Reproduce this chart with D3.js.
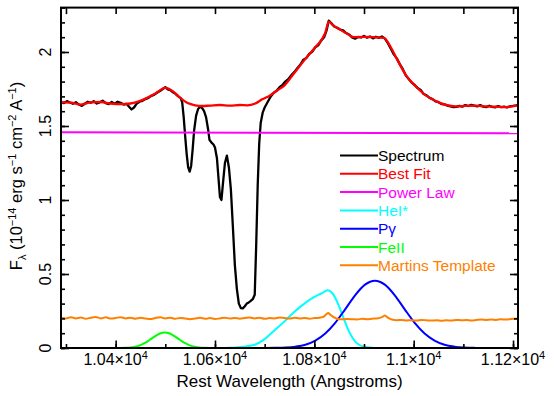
<!DOCTYPE html>
<html>
<head>
<meta charset="utf-8">
<script src="https://cdn.jsdelivr.net/npm/d3@7"></script>
<style>
  body { margin: 0; background: #fff; }
  text { font-family: "Liberation Sans", Arial, sans-serif; }
</style>
</head>
<body>
<div id="chart"></div>
<script>
// observed spectrum (Angstrom, 1e-14 erg/s/cm2/A)
const specWave = [
  10290, 10296, 10302, 10308, 10314, 10320, 10326, 10332, 10338, 10344,
  10350, 10356, 10362, 10368, 10374, 10380, 10386, 10392, 10398, 10404,
  10410, 10416, 10422, 10427, 10432, 10437, 10442, 10448, 10454, 10460,
  10466, 10472, 10478, 10484, 10490, 10496, 10500, 10505, 10510, 10515,
  10520, 10526, 10531, 10534, 10537, 10540, 10543, 10546, 10549, 10552,
  10555, 10558, 10562, 10566, 10570, 10574, 10578, 10582, 10586, 10589,
  10593, 10597, 10600, 10604, 10607, 10610, 10613, 10616, 10620, 10624,
  10628, 10632, 10636, 10640, 10644, 10648, 10652, 10656, 10660, 10664,
  10668, 10672, 10676, 10680, 10683, 10686, 10689, 10692, 10696, 10700,
  10706, 10712, 10718, 10724, 10730, 10736, 10742, 10748, 10754, 10760,
  10766, 10772, 10778, 10784, 10790, 10796, 10802, 10808, 10814, 10820,
  10825, 10829, 10834, 10840, 10846, 10852, 10858, 10864, 10870, 10876,
  10882, 10888, 10894, 10900, 10906, 10912, 10918, 10924, 10930, 10936,
  10942, 10948, 10954, 10960, 10966, 10972, 10978, 10984, 10990, 10996,
  11002, 11008, 11014, 11020, 11026, 11032, 11038, 11044, 11050, 11056,
  11062, 11068, 11074, 11080, 11086, 11092, 11098, 11104, 11110, 11116,
  11122, 11128, 11134, 11140, 11146, 11152, 11158, 11164, 11170, 11176,
  11182, 11188, 11194, 11200, 11206, 11210
];
const specFlux = [
  1.662, 1.655, 1.668, 1.659, 1.650, 1.661, 1.645, 1.636, 1.650, 1.664,
  1.657, 1.668, 1.652, 1.660, 1.671, 1.655, 1.648, 1.662, 1.650, 1.664,
  1.657, 1.645, 1.650, 1.630, 1.612, 1.625, 1.650, 1.664, 1.670, 1.682,
  1.690, 1.704, 1.712, 1.726, 1.738, 1.753, 1.763, 1.748, 1.743, 1.728,
  1.719, 1.700, 1.688, 1.660, 1.560, 1.430, 1.310, 1.220, 1.192, 1.230,
  1.340, 1.470, 1.570, 1.615, 1.630, 1.622, 1.600, 1.560, 1.480, 1.405,
  1.388, 1.375, 1.355, 1.280, 1.150, 1.020, 1.000, 1.110, 1.250, 1.300,
  1.220, 1.070, 0.820, 0.560, 0.400, 0.300, 0.270, 0.268, 0.282, 0.300,
  0.308, 0.318, 0.330, 0.360, 0.700, 1.100, 1.380, 1.520, 1.590, 1.625,
  1.662, 1.698, 1.724, 1.738, 1.762, 1.778, 1.802, 1.818, 1.845, 1.866,
  1.892, 1.915, 1.948, 1.960, 1.988, 2.003, 2.032, 2.046, 2.078, 2.102,
  2.150, 2.212, 2.196, 2.172, 2.164, 2.152, 2.146, 2.128, 2.118, 2.098,
  2.090, 2.102, 2.098, 2.108, 2.097, 2.105, 2.092, 2.103, 2.096, 2.105,
  2.090, 2.060, 2.022, 1.984, 1.957, 1.918, 1.886, 1.842, 1.818, 1.793,
  1.777, 1.756, 1.744, 1.716, 1.707, 1.690, 1.682, 1.666, 1.661, 1.648,
  1.646, 1.638, 1.633, 1.628, 1.629, 1.636, 1.631, 1.641, 1.635, 1.643,
  1.637, 1.633, 1.641, 1.631, 1.627, 1.637, 1.629, 1.626, 1.634, 1.627,
  1.631, 1.625, 1.633, 1.636, 1.640, 1.643
];

// best fit
const fitWave = [10290, 10310, 10330, 10350, 10370, 10390, 10410, 10430, 10445, 10460,
  10480, 10500, 10515, 10530, 10545, 10560, 10575, 10590, 10610, 10630,
  10650, 10665, 10680, 10695, 10710, 10725, 10740, 10760, 10780, 10800,
  10815, 10822, 10829, 10836, 10850, 10865, 10880, 10900, 10920, 10940,
  10950, 10965, 10985, 11005, 11025, 11045, 11065, 11085, 11105, 11125,
  11145, 11165, 11185, 11210];
const fitFlux = [1.660, 1.658, 1.645, 1.660, 1.662, 1.652, 1.648, 1.652, 1.665, 1.685,
  1.720, 1.757, 1.735, 1.690, 1.655, 1.640, 1.635, 1.638, 1.642, 1.638,
  1.642, 1.640, 1.650, 1.680, 1.705, 1.740, 1.775, 1.860, 1.945, 2.025,
  2.085, 2.130, 2.205, 2.185, 2.155, 2.125, 2.100, 2.102, 2.100, 2.095,
  2.055, 1.960, 1.840, 1.765, 1.705, 1.668, 1.642, 1.632, 1.636, 1.638,
  1.632, 1.630, 1.628, 1.640];

// power law continuum
const powWave = [10290, 11210];
const powFlux = [1.457, 1.451];

// HeI* component
const heWave = [10290, 10600, 10640, 10660, 10680, 10700, 10720, 10740, 10760, 10780,
  10800, 10815, 10827, 10835, 10842, 10850, 10858, 10866, 10874, 10882,
  10890, 10900, 10915, 10930, 11210];
const heFlux = [0, 0, 0.004, 0.010, 0.022, 0.060, 0.120, 0.180, 0.245, 0.300,
  0.345, 0.370, 0.390, 0.375, 0.340, 0.280, 0.210, 0.140, 0.085, 0.045,
  0.022, 0.008, 0.002, 0, 0];

// Pa gamma component
const pgWave = [10290, 10700, 10722, 10742, 10762, 10782, 10802, 10822, 10842, 10862,
  10882, 10902, 10922, 10942, 10962, 10982, 11002, 11022, 11042, 11062,
  11082, 11102, 11122, 11140, 11210];
const pgFlux = [0, 0, 0.001, 0.003, 0.009, 0.022, 0.050, 0.098, 0.170, 0.261,
  0.356, 0.428, 0.455, 0.428, 0.356, 0.261, 0.170, 0.098, 0.050, 0.022,
  0.009, 0.003, 0.001, 0, 0];

// FeII component
const feWave = [10290, 10410, 10420, 10429, 10439, 10449, 10459, 10469, 10479, 10489,
  10499, 10509, 10519, 10529, 10539, 10549, 10559, 10569, 10579, 10590, 11210];
const feFlux = [0, 0, 0.001, 0.003, 0.008, 0.018, 0.034, 0.056, 0.079, 0.098,
  0.105, 0.098, 0.079, 0.056, 0.034, 0.018, 0.008, 0.003, 0.001, 0, 0];

// Martins template
const marWave = [10290, 10300, 10310, 10320, 10330, 10340, 10350, 10360, 10370, 10380,
  10390, 10400, 10410, 10420, 10430, 10440, 10450, 10460, 10470, 10480,
  10490, 10500, 10510, 10520, 10530, 10540, 10550, 10560, 10570, 10580,
  10590, 10600, 10610, 10620, 10630, 10640, 10650, 10660, 10670, 10680,
  10690, 10700, 10710, 10720, 10730, 10740, 10750, 10760, 10770, 10780,
  10790, 10800, 10810, 10818, 10824, 10828, 10832, 10838, 10846, 10856,
  10866, 10876, 10886, 10896, 10906, 10916, 10926, 10936, 10942, 10948,
  10956, 10966, 10976, 10986, 10996, 11006, 11016, 11026, 11036, 11046,
  11056, 11066, 11076, 11086, 11096, 11106, 11116, 11126, 11136, 11146,
  11156, 11166, 11176, 11186, 11196, 11210];
const marFlux = [0.205, 0.200, 0.208, 0.200, 0.206, 0.198, 0.205, 0.210, 0.200, 0.207,
  0.199, 0.203, 0.208, 0.200, 0.205, 0.198, 0.204, 0.200, 0.196, 0.203,
  0.207, 0.200, 0.205, 0.197, 0.203, 0.199, 0.195, 0.200, 0.204, 0.198,
  0.202, 0.196, 0.200, 0.205, 0.199, 0.203, 0.198, 0.202, 0.206, 0.200,
  0.204, 0.197, 0.202, 0.200, 0.206, 0.202, 0.199, 0.204, 0.200, 0.203,
  0.198, 0.202, 0.205, 0.210, 0.228, 0.236, 0.225, 0.210, 0.198, 0.194,
  0.196, 0.195, 0.193, 0.197, 0.195, 0.198, 0.200, 0.208, 0.220, 0.205,
  0.192, 0.188, 0.190, 0.186, 0.188, 0.185, 0.190, 0.187, 0.185, 0.188,
  0.184, 0.187, 0.186, 0.190, 0.187, 0.189, 0.186, 0.189, 0.192, 0.190,
  0.192, 0.190, 0.194, 0.192, 0.196, 0.200];

// ticks and legend
const xMajor = [10400, 10600, 10800, 11000, 11200];
const xMajorLabels = ["1.04", "1.06", "1.08", "1.1", "1.12"];
const yMajor = [0, 0.5, 1, 1.5, 2];
const yMajorLabels = ["0", "0.5", "1", "1.5", "2"];
const legendNames = ["Spectrum", "Best Fit", "Power Law", "HeI*", "P\u03b3", "FeII", "Martins Template"];
const legendColors = ["#000000", "#ff0000", "#ff00ff", "#00ffff", "#0000ff", "#00ff00", "#ff8000"];

const width = 554;
const height = 396;
const plotL = 61, plotR = 518, plotT = 7.6, plotB = 348;

const svg = d3.select("#chart").append("svg")
    .attr("width", width)
    .attr("height", height);

const x = d3.scaleLinear().domain([10290, 11210]).range([plotL, plotR]);
const y = d3.scaleLinear().domain([0, 2.3]).range([plotB, plotT]);

svg.append("clipPath").attr("id", "clip")
  .append("rect")
    .attr("x", plotL).attr("y", plotT)
    .attr("width", plotR - plotL).attr("height", plotB - plotT);

// build line series from the arrays
function series(w, f) { return w.map((d, i) => [d, f[i]]); }

const plots = [
  { data: series(specWave, specFlux), color: legendColors[0], curve: d3.curveLinear, w: 2.3 },
  { data: series(fitWave, fitFlux), color: legendColors[1], curve: d3.curveMonotoneX, w: 2.3 },
  { data: series(powWave, powFlux), color: legendColors[2], curve: d3.curveLinear, w: 2 },
  { data: series(feWave, feFlux), color: legendColors[5], curve: d3.curveMonotoneX, w: 2 },
  { data: series(heWave, heFlux), color: legendColors[3], curve: d3.curveMonotoneX, w: 2 },
  { data: series(pgWave, pgFlux), color: legendColors[4], curve: d3.curveMonotoneX, w: 2 },
  { data: series(marWave, marFlux), color: legendColors[6], curve: d3.curveMonotoneX, w: 2 }
];

const lines = svg.append("g").attr("clip-path", "url(#clip)");
plots.forEach(p => {
  const line = d3.line().x(d => x(d[0])).y(d => y(d[1])).curve(p.curve);
  lines.append("path")
    .attr("d", line(p.data))
    .attr("fill", "none")
    .attr("stroke", p.color)
    .attr("stroke-width", p.w)
    .attr("stroke-linejoin", "round");
});

// ticks pointing into the frame on every side
function ticks(axis, tr) {
  svg.append("g")
    .attr("transform", tr)
    .call(axis.tickFormat(""))
    .call(g => g.select(".domain").remove())
    .call(g => g.selectAll("line").attr("stroke-width", 1.6));
}
const xMinor = d3.range(10300, 11201, 100);
const yMinor = d3.range(0, 2.31, 0.1);
ticks(d3.axisBottom(x).tickValues(xMinor).tickSize(-4), "translate(0," + plotB + ")");
ticks(d3.axisBottom(x).tickValues(xMajor).tickSize(-7.5), "translate(0," + plotB + ")");
ticks(d3.axisTop(x).tickValues(xMinor).tickSize(-6.5), "translate(0," + plotT + ")");
ticks(d3.axisLeft(y).tickValues(yMinor).tickSize(-4), "translate(" + plotL + ",0)");
ticks(d3.axisLeft(y).tickValues(yMajor).tickSize(-8), "translate(" + plotL + ",0)");
ticks(d3.axisRight(y).tickValues(yMinor).tickSize(-4), "translate(" + plotR + ",0)");
ticks(d3.axisRight(y).tickValues(yMajor).tickSize(-8), "translate(" + plotR + ",0)");

// frame
svg.append("rect")
  .attr("x", plotL).attr("y", plotT)
  .attr("width", plotR - plotL).attr("height", plotB - plotT)
  .attr("fill", "none").attr("stroke", "#000").attr("stroke-width", 2);

// x tick labels like 1.04x10^4
xMajor.forEach((v, i) => {
  const t = svg.append("text")
    .attr("x", x(v)).attr("y", 365)
    .attr("text-anchor", "middle")
    .attr("font-size", 16);
  t.append("tspan").text(xMajorLabels[i] + "\u00d710");
  t.append("tspan").attr("dy", -6).attr("font-size", 11).text("4");
});

// y tick labels, rotated
yMajor.forEach((v, i) => {
  svg.append("text")
    .attr("transform", "translate(51," + y(v) + ") rotate(-90)")
    .attr("text-anchor", "middle")
    .attr("font-size", 16)
    .text(yMajorLabels[i]);
});

// axis titles
svg.append("text")
  .attr("x", (plotL + plotR) / 2).attr("y", 387)
  .attr("text-anchor", "middle")
  .attr("font-size", 17)
  .text("Rest Wavelength (Angstroms)");

const yt = svg.append("text")
  .attr("transform", "translate(22,176) rotate(-90)")
  .attr("text-anchor", "middle")
  .attr("font-size", 16.5);
yt.append("tspan").text("F");
yt.append("tspan").attr("dy", 4).attr("font-size", 11).text("\u03bb");
yt.append("tspan").attr("dy", -4).text(" (10");
yt.append("tspan").attr("dy", -6).attr("font-size", 11).text("\u221214");
yt.append("tspan").attr("dy", 6).text(" erg s");
yt.append("tspan").attr("dy", -6).attr("font-size", 11).text("\u22121");
yt.append("tspan").attr("dy", 6).text(" cm");
yt.append("tspan").attr("dy", -6).attr("font-size", 11).text("\u22122");
yt.append("tspan").attr("dy", 6).text(" A");
yt.append("tspan").attr("dy", -6).attr("font-size", 11).text("\u22121");
yt.append("tspan").attr("dy", 6).text(")");

// legend
const leg = svg.append("g");
legendNames.forEach((name, i) => {
  const ly = 155.5 + i * 18.3;
  leg.append("line")
    .attr("x1", 340).attr("x2", 378)
    .attr("y1", ly).attr("y2", ly)
    .attr("stroke", legendColors[i]).attr("stroke-width", 2);
  leg.append("text")
    .attr("x", 378).attr("y", ly + 5.5)
    .attr("font-size", 15.5)
    .attr("fill", legendColors[i])
    .text(name);
});
</script>
</body>
</html>
